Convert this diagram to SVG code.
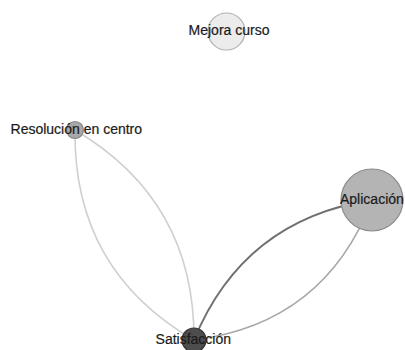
<svg xmlns="http://www.w3.org/2000/svg" width="405" height="350" viewBox="0 0 405 350">
<style>
.edge{fill:none;stroke-linecap:round}
.lbl{font-family:"Liberation Sans",Arial,sans-serif;font-size:14px;fill:#1a1a1a;stroke:#1a1a1a;stroke-width:0.2}
</style>
<rect width="405" height="350" fill="#fff"/>
<g id="connectors">
<path class="edge" d="M75,130 Q73.2,270.1 194,340" stroke="#d0d0d0" stroke-width="1.6"/>
<path class="edge" d="M75,130 Q194.8,200.9 194,340" stroke="#d0d0d0" stroke-width="1.6"/>
<path class="edge" d="M194,340 Q243.4,219.7 372,200" stroke="#707070" stroke-width="1.8"/>
<path class="edge" d="M194,340 Q325,323.4 372,200" stroke="#a8a8a8" stroke-width="1.6"/>
</g>
<g id="node-mejora">
<circle cx="226.5" cy="31.5" r="18.5" fill="#ececec" stroke="#b0b0b0" stroke-width="1.2"/>
<text class="lbl" x="229" y="35" text-anchor="middle">Mejora curso</text>
</g>
<g id="node-resolucion">
<circle cx="75" cy="130" r="8.5" fill="#a8a8a8" stroke="#888" stroke-width="1.2"/>
<text class="lbl" x="76.3" y="134" text-anchor="middle">Resolución en centro</text>
</g>
<g id="node-aplicacion">
<circle cx="372" cy="200" r="31" fill="#b4b4b4" stroke="#8a8a8a" stroke-width="1.2"/>
<text class="lbl" x="340" y="203.5">Aplicación</text>
</g>
<g id="node-satisfaccion">
<circle cx="194" cy="340" r="12" fill="#4d4d4d" stroke="#333" stroke-width="1.2"/>
<text class="lbl" x="193.3" y="344" text-anchor="middle">Satisfacción</text>
</g>
</svg>
